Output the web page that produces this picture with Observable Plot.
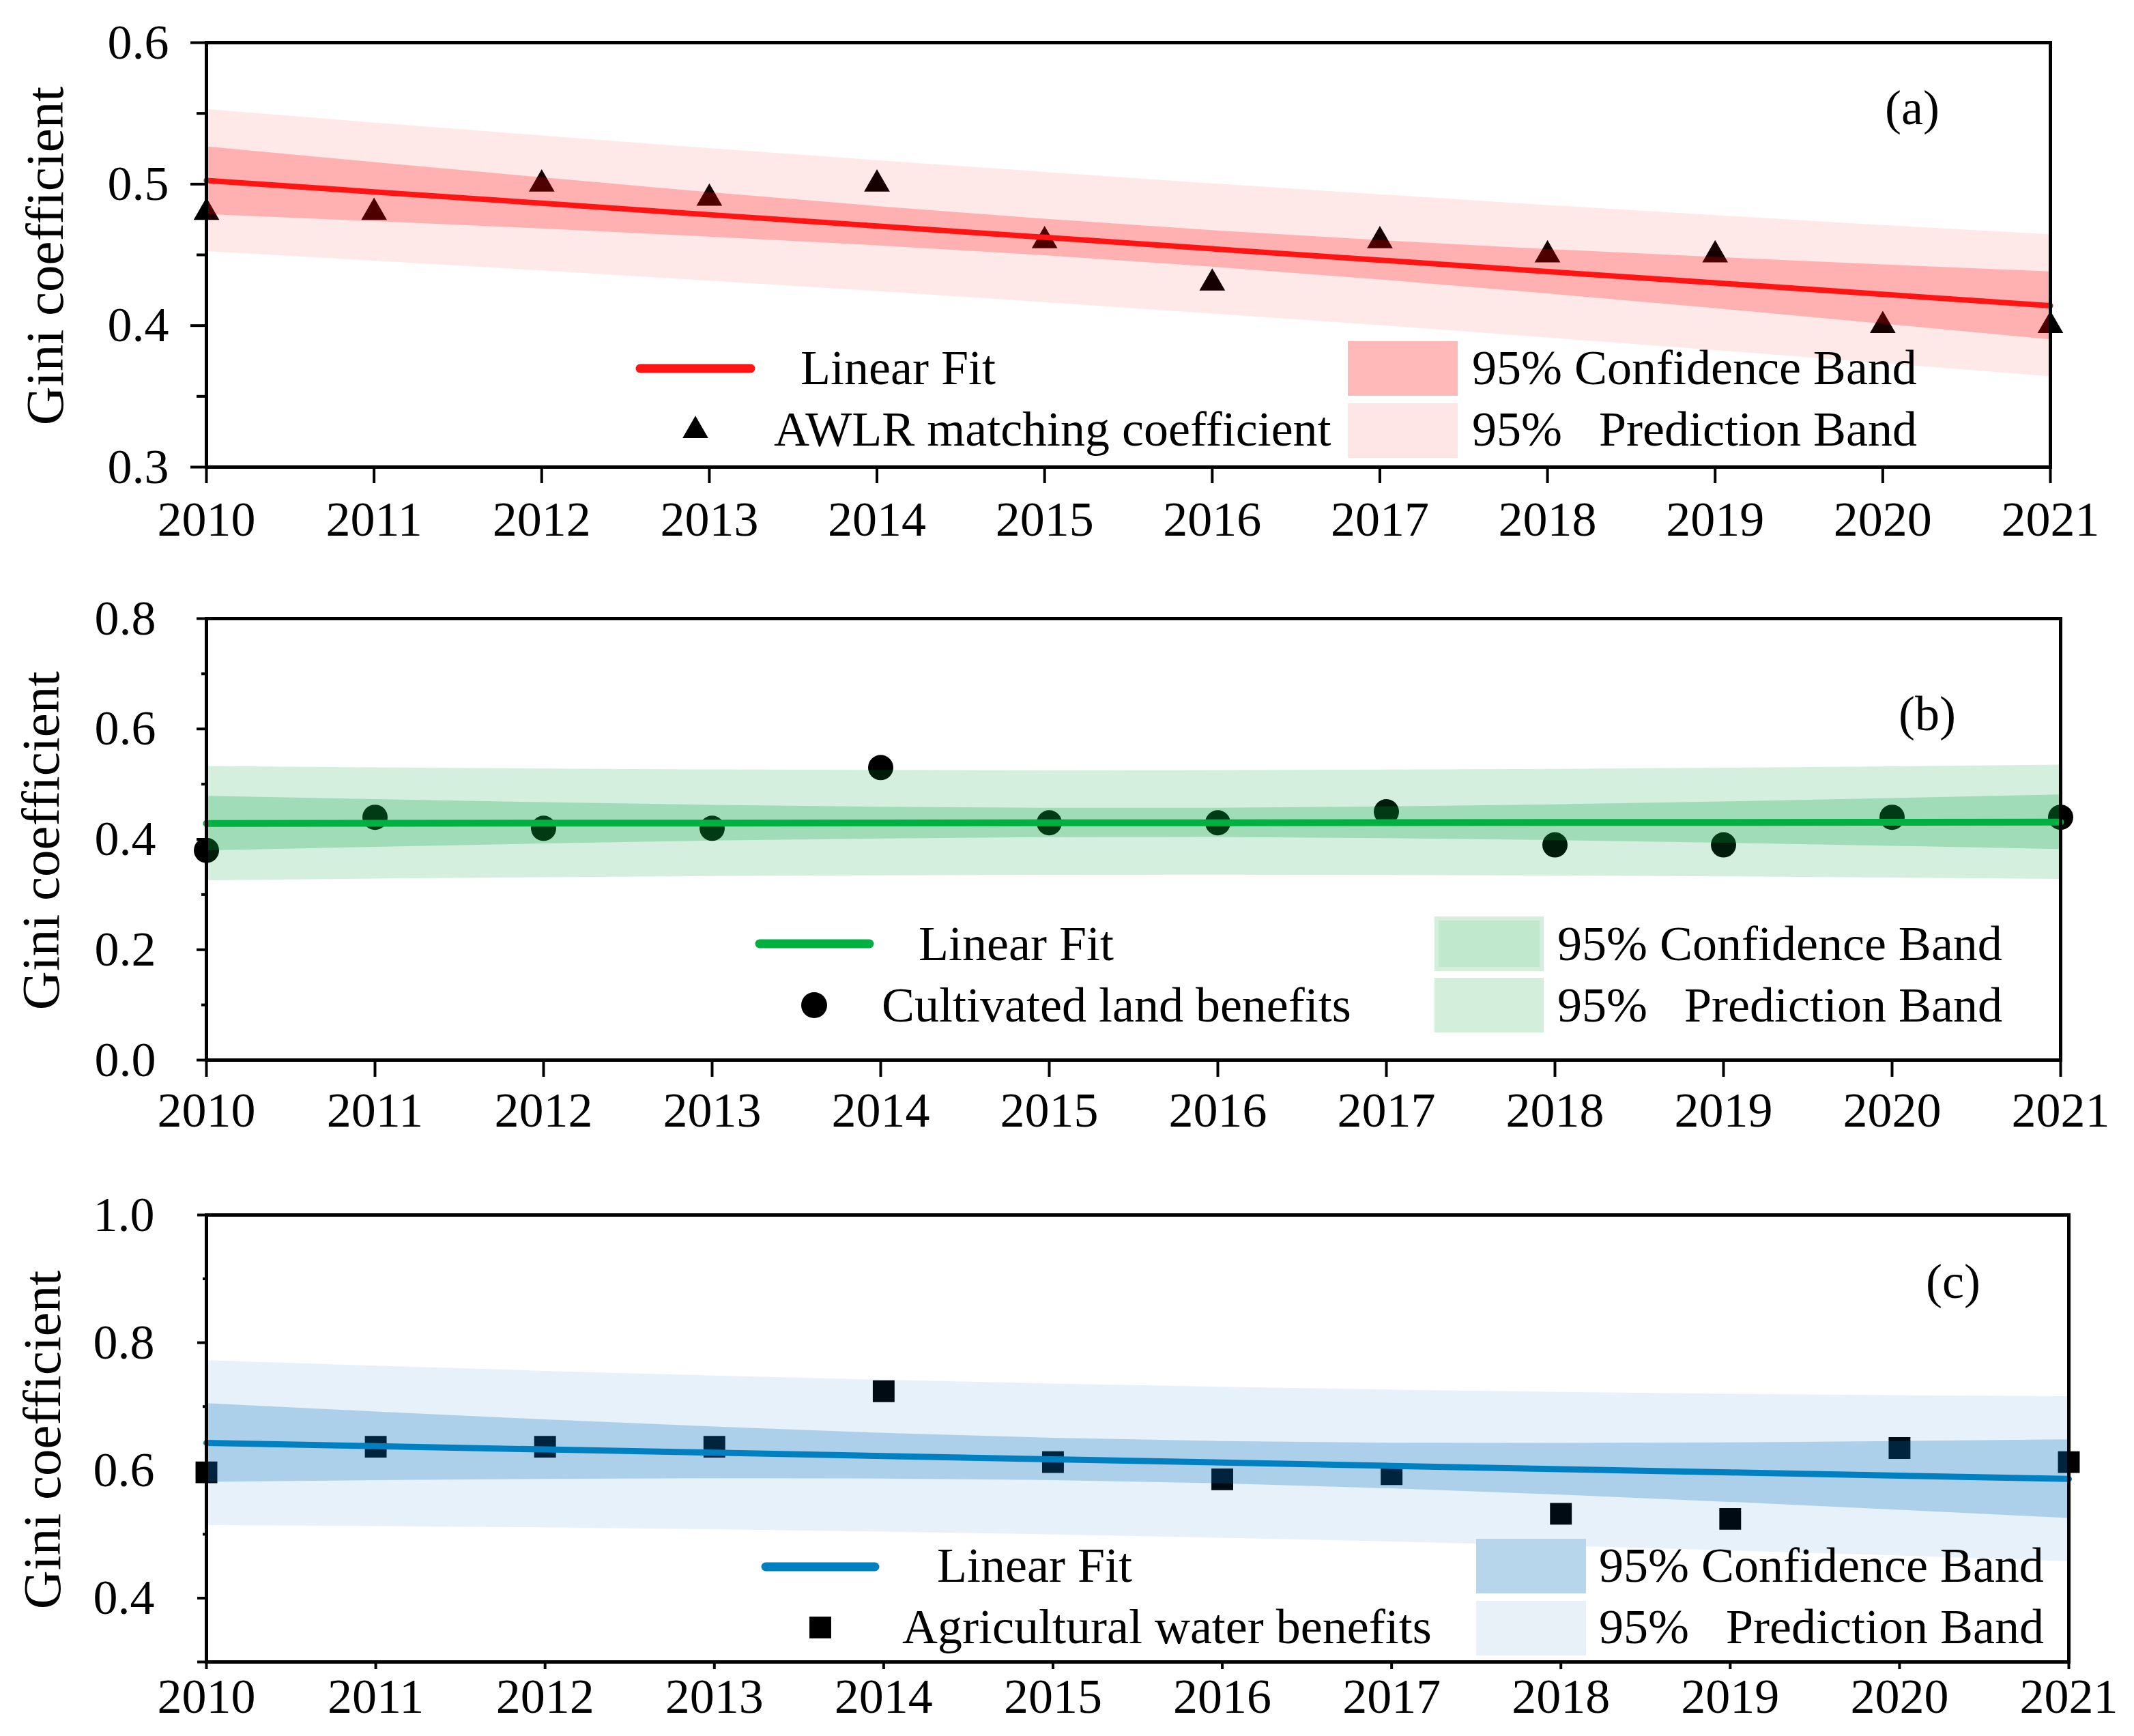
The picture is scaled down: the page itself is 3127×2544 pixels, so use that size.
<!DOCTYPE html>
<html>
<head>
<meta charset="utf-8">
<script src="https://cdn.jsdelivr.net/npm/d3@7"></script>
<script src="https://cdn.jsdelivr.net/npm/@observablehq/plot@0.6"></script>
<style>
  html, body { margin: 0; padding: 0; background: #fff; }
  body { width: 3127px; height: 2544px; position: relative; overflow: hidden;
         font-family: "Liberation Serif", "Times New Roman", serif; }
  .panel { position: absolute; left: 0; }
  #overlay { position: absolute; left: 0; top: 0; pointer-events: none; }
</style>
</head>
<body>
<div id="pa" class="panel" style="top:0px"></div>
<div id="pb" class="panel" style="top:840px"></div>
<div id="pc" class="panel" style="top:1700px"></div>
<svg id="overlay" width="3127" height="2544"></svg>
<script>
// ---------------- data ----------------
const years = [2010, 2011, 2012, 2013, 2014, 2015, 2016, 2017, 2018, 2019, 2020, 2021];

// (a) AWLR matching coefficient
const awlr      = [0.48, 0.48, 0.50, 0.49, 0.50, 0.46, 0.43, 0.46, 0.45, 0.45, 0.40, 0.40];
const awlrFit   = [0.5026, 0.4945, 0.4865, 0.4784, 0.4704, 0.4624, 0.4543, 0.4463, 0.4382, 0.4302, 0.4221, 0.4141];
const awlrConfHi = [0.5265, 0.5154, 0.5046, 0.4941, 0.4843, 0.4753, 0.4672, 0.4602, 0.4539, 0.4483, 0.4430, 0.4381];
const awlrConfLo = [0.4786, 0.4736, 0.4684, 0.4627, 0.4565, 0.4495, 0.4414, 0.4324, 0.4225, 0.4121, 0.4012, 0.3901];
const awlrPredHi = [0.5528, 0.5433, 0.5342, 0.5252, 0.5167, 0.5084, 0.5003, 0.4926, 0.4850, 0.4779, 0.4709, 0.4643];
const awlrPredLo = [0.4524, 0.4457, 0.4388, 0.4316, 0.4242, 0.4164, 0.4083, 0.4001, 0.3914, 0.3825, 0.3733, 0.3639];

// (b) Cultivated land benefits
const land      = [0.38, 0.44, 0.42, 0.42, 0.53, 0.43, 0.43, 0.45, 0.39, 0.39, 0.44, 0.44];
const landFit   = [0.4288, 0.4290, 0.4293, 0.4295, 0.4297, 0.4299, 0.4301, 0.4303, 0.4305, 0.4307, 0.4309, 0.4312];
const landConfHi = [0.4783, 0.4722, 0.4667, 0.4619, 0.4584, 0.4565, 0.4567, 0.4590, 0.4629, 0.4681, 0.4741, 0.4806];
const landConfLo = [0.3794, 0.3858, 0.3919, 0.3971, 0.4010, 0.4034, 0.4036, 0.4016, 0.3981, 0.3933, 0.3877, 0.3818];
const landPredHi = [0.5324, 0.5298, 0.5277, 0.5261, 0.5251, 0.5247, 0.5249, 0.5257, 0.5271, 0.5291, 0.5317, 0.5348];
const landPredLo = [0.3252, 0.3283, 0.3309, 0.3329, 0.3343, 0.3351, 0.3353, 0.3349, 0.3339, 0.3323, 0.3302, 0.3276];

// (c) Agricultural water benefits
const water      = [0.597, 0.637, 0.637, 0.637, 0.724, 0.613, 0.586, 0.594, 0.532, 0.524, 0.635, 0.613];
const waterFit   = [0.6431, 0.6380, 0.6328, 0.6277, 0.6225, 0.6174, 0.6123, 0.6071, 0.6020, 0.5968, 0.5917, 0.5866];
const waterConfHi = [0.7047, 0.6918, 0.6794, 0.6681, 0.6582, 0.6505, 0.6454, 0.6428, 0.6424, 0.6434, 0.6455, 0.6482];
const waterConfLo = [0.5815, 0.5842, 0.5862, 0.5873, 0.5868, 0.5843, 0.5792, 0.5714, 0.5616, 0.5502, 0.5379, 0.5250];
const waterPredHi = [0.7722, 0.7635, 0.7554, 0.7481, 0.7414, 0.7356, 0.7305, 0.7260, 0.7224, 0.7194, 0.7172, 0.7157];
const waterPredLo = [0.5140, 0.5125, 0.5102, 0.5073, 0.5036, 0.4992, 0.4941, 0.4882, 0.4816, 0.4742, 0.4662, 0.4575];

// tick values
const yTicksA = [0.3, 0.4, 0.5, 0.6];
const yMinorA = [0.35, 0.45, 0.55];
const yTicksB = [0.0, 0.2, 0.4, 0.6, 0.8];
const yMinorB = [0.1, 0.3, 0.5, 0.7];
const yTicksC = [0.4, 0.6, 0.8, 1.0];
const yMinorC = [0.5, 0.7, 0.9];
const yEdgeC  = [0.3];

const yLabel = "Gini coefficient";
const legendA = ["Linear Fit", "AWLR matching coefficient", "95% Confidence Band", "95%   Prediction Band"];
const legendB = ["Linear Fit", "Cultivated land benefits", "95% Confidence Band", "95%   Prediction Band"];
const legendC = ["Linear Fit", "Agricultural water benefits", "95% Confidence Band", "95%   Prediction Band"];

// ---------------- drawing ----------------
function rowsOf(v, fit, cHi, cLo, pHi, pLo) {
  return years.map((yr, i) => ({yr, v: v[i], fit: fit[i], cHi: cHi[i], cLo: cLo[i], pHi: pHi[i], pLo: pLo[i]}));
}

function panel(o) {
  const rows = rowsOf(...o.series);
  const marks = [
    Plot.dot(rows, {x: "yr", y: "v", symbol: o.symbol, r: o.r, fill: "black", stroke: "none"}),
    Plot.areaY(rows, {x: "yr", y1: "pLo", y2: "pHi", fill: o.base, fillOpacity: o.pa}),
    Plot.areaY(rows, {x: "yr", y1: "cLo", y2: "cHi", fill: o.base, fillOpacity: o.ca}),
    Plot.line(rows, {x: "yr", y: "fit", stroke: o.line, strokeWidth: o.lw}),
    Plot.frame({stroke: "black", strokeWidth: 5}),
    Plot.axisX(years, {tickSize: o.xTickSize, tickPadding: o.xPad, tickFormat: d3.format("d"),
                       label: null, strokeWidth: 4}),
    Plot.axisY(o.major, {tickSize: o.majorSize, tickPadding: o.yPad, tickFormat: d3.format(".1f"),
                         label: null, strokeWidth: 4}),
    Plot.axisY(o.minor, {tickSize: o.minorSize, tickFormat: () => "", label: null, strokeWidth: 4})
  ];
  if (o.extra) marks.push(Plot.axisY(o.extra, {tickSize: o.majorSize, tickFormat: () => "", label: null, strokeWidth: 4}));
  const chart = Plot.plot({
    width: 3127, height: o.H,
    marginTop: o.mt, marginBottom: o.mb, marginLeft: 302, marginRight: o.mr,
    x: {domain: [2010, 2021]},
    y: {domain: o.ydom},
    style: {fontFamily: "Liberation Serif", fontSize: "72px", color: "black", background: "transparent", overflow: "visible"},
    marks
  });
  document.getElementById(o.el).appendChild(chart);
}

panel({el: "pa", H: 820, mt: 62, mb: 136, mr: 123, ydom: [0.3, 0.6],
  series: [awlr, awlrFit, awlrConfHi, awlrConfLo, awlrPredHi, awlrPredLo],
  symbol: "triangle", r: 14, base: "#ff0000", pa: 0.09, ca: 0.24, line: "#ff1414", lw: 8,
  major: yTicksA, minor: yMinorA, majorSize: 23, minorSize: 14, yPad: 32,
  xTickSize: 24, xPad: 25});

panel({el: "pb", H: 840, mt: 66, mb: 127, mr: 108, ydom: [0, 0.8],
  series: [land, landFit, landConfHi, landConfLo, landPredHi, landPredLo],
  symbol: "circle", r: 18.5, base: "#00a03c", pa: 0.17, ca: 0.245, line: "#00b040", lw: 10,
  major: yTicksB, minor: yMinorB, majorSize: 14, minorSize: 7, yPad: 60,
  xTickSize: 25, xPad: 21});

panel({el: "pc", H: 844, mt: 80, mb: 109, mr: 96, ydom: [0.3, 1.0],
  series: [water, waterFit, waterConfHi, waterConfLo, waterPredHi, waterPredLo],
  symbol: "square", r: 18, base: "#006ebe", pa: 0.098, ca: 0.252, line: "#0080c0", lw: 9,
  major: yTicksC, minor: yMinorC, extra: yEdgeC, majorSize: 13, minorSize: 5, yPad: 63,
  xTickSize: 11, xPad: 12});

// ---------------- axis titles, in-plot legends and panel letters ----------------
const ov = d3.select("#overlay");
const font = {family: "Liberation Serif", size: 72};
function txt(s, x, y) {
  ov.append("text").attr("x", x).attr("y", y).attr("font-family", font.family)
    .attr("font-size", font.size).attr("fill", "black").attr("xml:space", "preserve")
    .style("white-space", "pre").text(s);
}
function ylab(x, y) {
  ov.append("text").attr("transform", `translate(${x},${y}) rotate(-90)`).attr("text-anchor", "middle")
    .attr("font-family", font.family).attr("font-size", 79).attr("fill", "black").text(yLabel);
}
function legend(L) {
  ov.append("line").attr("x1", L.lx1).attr("x2", L.lx2).attr("y1", L.ly).attr("y2", L.ly)
    .attr("stroke", L.line).attr("stroke-width", 13).attr("stroke-linecap", "round");
  txt(L.labels[0], L.t1x, L.b1);
  const sym = {triangle: d3.symbolTriangle, circle: d3.symbolCircle, square: d3.symbolSquare}[L.symbol];
  ov.append("path").attr("d", d3.symbol(sym, Math.PI * L.r * L.r)())
    .attr("transform", `translate(${L.sx},${L.sy})`).attr("fill", "black");
  txt(L.labels[1], L.t2x, L.b2);
  ov.append("rect").attr("x", L.rx).attr("y", L.ry1).attr("width", L.rw).attr("height", L.rh).attr("fill", L.predFill);
  ov.append("rect").attr("x", L.rx + L.inset).attr("y", L.ry1 + L.inset).attr("width", L.rw - 2 * L.inset)
    .attr("height", L.rh - 2 * L.inset).attr("fill", L.confFill);
  ov.append("rect").attr("x", L.rx).attr("y", L.ry2).attr("width", L.rw).attr("height", L.rh).attr("fill", L.predFill);
  txt(L.labels[2], L.t3x, L.b1);
  txt(L.labels[3], L.t3x, L.b2);
}

ylab(92, 375);
ylab(86, 1232);
ylab(88, 2110);

legend({labels: legendA, line: "#ff1414", lx1: 938, lx2: 1100, ly: 540, t1x: 1173, b1: 563,
  symbol: "triangle", r: 14, sx: 1019, sy: 631, t2x: 1134, b2: 653,
  rx: 1975, rw: 161, rh: 80, ry1: 500, ry2: 591, inset: 0, confFill: "#ffb9b9", predFill: "#ffe6e6", t3x: 2157});
legend({labels: legendB, line: "#00b040", lx1: 1113, lx2: 1274, ly: 1383, t1x: 1346, b1: 1407,
  symbol: "circle", r: 19, sx: 1193, sy: 1473, t2x: 1292, b2: 1497,
  rx: 2102, rw: 160, rh: 80, ry1: 1343, ry2: 1433, inset: 6, confFill: "#bfe8cc", predFill: "#d4eedc", t3x: 2282});
legend({labels: legendC, line: "#0080c0", lx1: 1122, lx2: 1282, ly: 2296, t1x: 1373, b1: 2318,
  symbol: "square", r: 18, sx: 1202, sy: 2385, t2x: 1322, b2: 2408,
  rx: 2163, rw: 161, rh: 80, ry1: 2255, ry2: 2346, inset: 0, confFill: "#b7d6ec", predFill: "#e8f1f8", t3x: 2343});

txt("(a)", 2762, 182);
txt("(b)", 2782, 1070);
txt("(c)", 2822, 1902);
</script>
</body>
</html>
